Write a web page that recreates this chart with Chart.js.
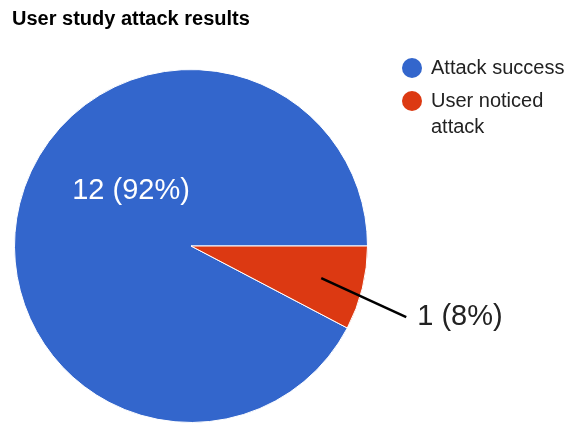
<!DOCTYPE html>
<html>
<head>
<meta charset="utf-8">
<script src="https://cdn.jsdelivr.net/npm/chart.js"></script>
<style>
  html, body { margin: 0; padding: 0; background: #fff; }
  #wrap { width: 567px; height: 425px; }
</style>
</head>
<body>
<div id="wrap"><canvas id="grafico" width="567" height="425"></canvas></div>
<script>
// dados do gráfico
const titulo = 'User study attack results';
const categorias = ['Attack success', 'User noticed attack'];
const legendaLinhas = [['Attack success'], ['User noticed', 'attack']];
const valores = [12, 1];
const cores = ['#3366cc', '#dc3912'];

const total = valores.reduce((a, b) => a + b, 0);
// red slice starts at 3 o'clock, blue before it
const rotacao = 90 - (valores[0] / total) * 360;

const FONT = '"Liberation Sans", Arial, sans-serif';

function rotulo(i) {
  return valores[i] + ' (' + Math.round(valores[i] / total * 100) + '%)';
}

const pluginExtras = {
  id: 'extras',
  afterDraw(chart) {
    const c = chart.ctx;
    const meta = chart.getDatasetMeta(0);
    c.save();

    // título
    c.fillStyle = '#000';
    c.font = 'bold 20px ' + FONT;
    c.textBaseline = 'alphabetic';
    c.textAlign = 'left';
    c.fillText(titulo, 12, 25);

    // legenda
    let y = 68;
    legendaLinhas.forEach((linhas, i) => {
      c.beginPath();
      c.arc(412, y, 10, 0, Math.PI * 2);
      c.fillStyle = cores[i];
      c.fill();
      c.fillStyle = '#222';
      c.font = '20px ' + FONT;
      c.textBaseline = 'middle';
      linhas.forEach((t, k) => c.fillText(t, 431, y + k * 26));
      y += 33;
    });

    // rótulos das fatias
    const a0 = meta.data[0];
    const a1 = meta.data[1];
    c.font = '29px ' + FONT;
    c.textBaseline = 'middle';

    // fatia grande: texto branco dentro
    const r = a0.outerRadius;
    c.fillStyle = '#fff';
    c.textAlign = 'center';
    c.fillText(rotulo(0), a0.x - r * 0.34, a0.y - r * 0.31);

    // fatia pequena: linha guia e texto fora
    const meio = (a1.startAngle + a1.endAngle) / 2;
    const px = a1.x + Math.cos(meio) * r * 0.76;
    const py = a1.y + Math.sin(meio) * r * 0.76;
    const qx = px + 85;
    const qy = py + 39;
    c.strokeStyle = '#000';
    c.lineWidth = 2.5;
    c.beginPath();
    c.moveTo(px, py);
    c.lineTo(qx, qy);
    c.stroke();
    c.fillStyle = '#222';
    c.textAlign = 'left';
    c.fillText(rotulo(1), qx + 11, qy);

    c.restore();
  }
};

new Chart(document.getElementById('grafico').getContext('2d'), {
  type: 'pie',
  data: {
    labels: categorias,
    datasets: [{
      data: valores,
      backgroundColor: cores,
      borderColor: '#fff',
      borderWidth: 1
    }]
  },
  options: {
    responsive: false,
    animation: false,
    rotation: rotacao,
    layout: { padding: { left: 14, top: 69, right: 199, bottom: 2 } },
    plugins: {
      legend: { display: false },
      tooltip: { enabled: false },
      title: { display: false }
    }
  },
  plugins: [pluginExtras]
});
</script>
</body>
</html>
